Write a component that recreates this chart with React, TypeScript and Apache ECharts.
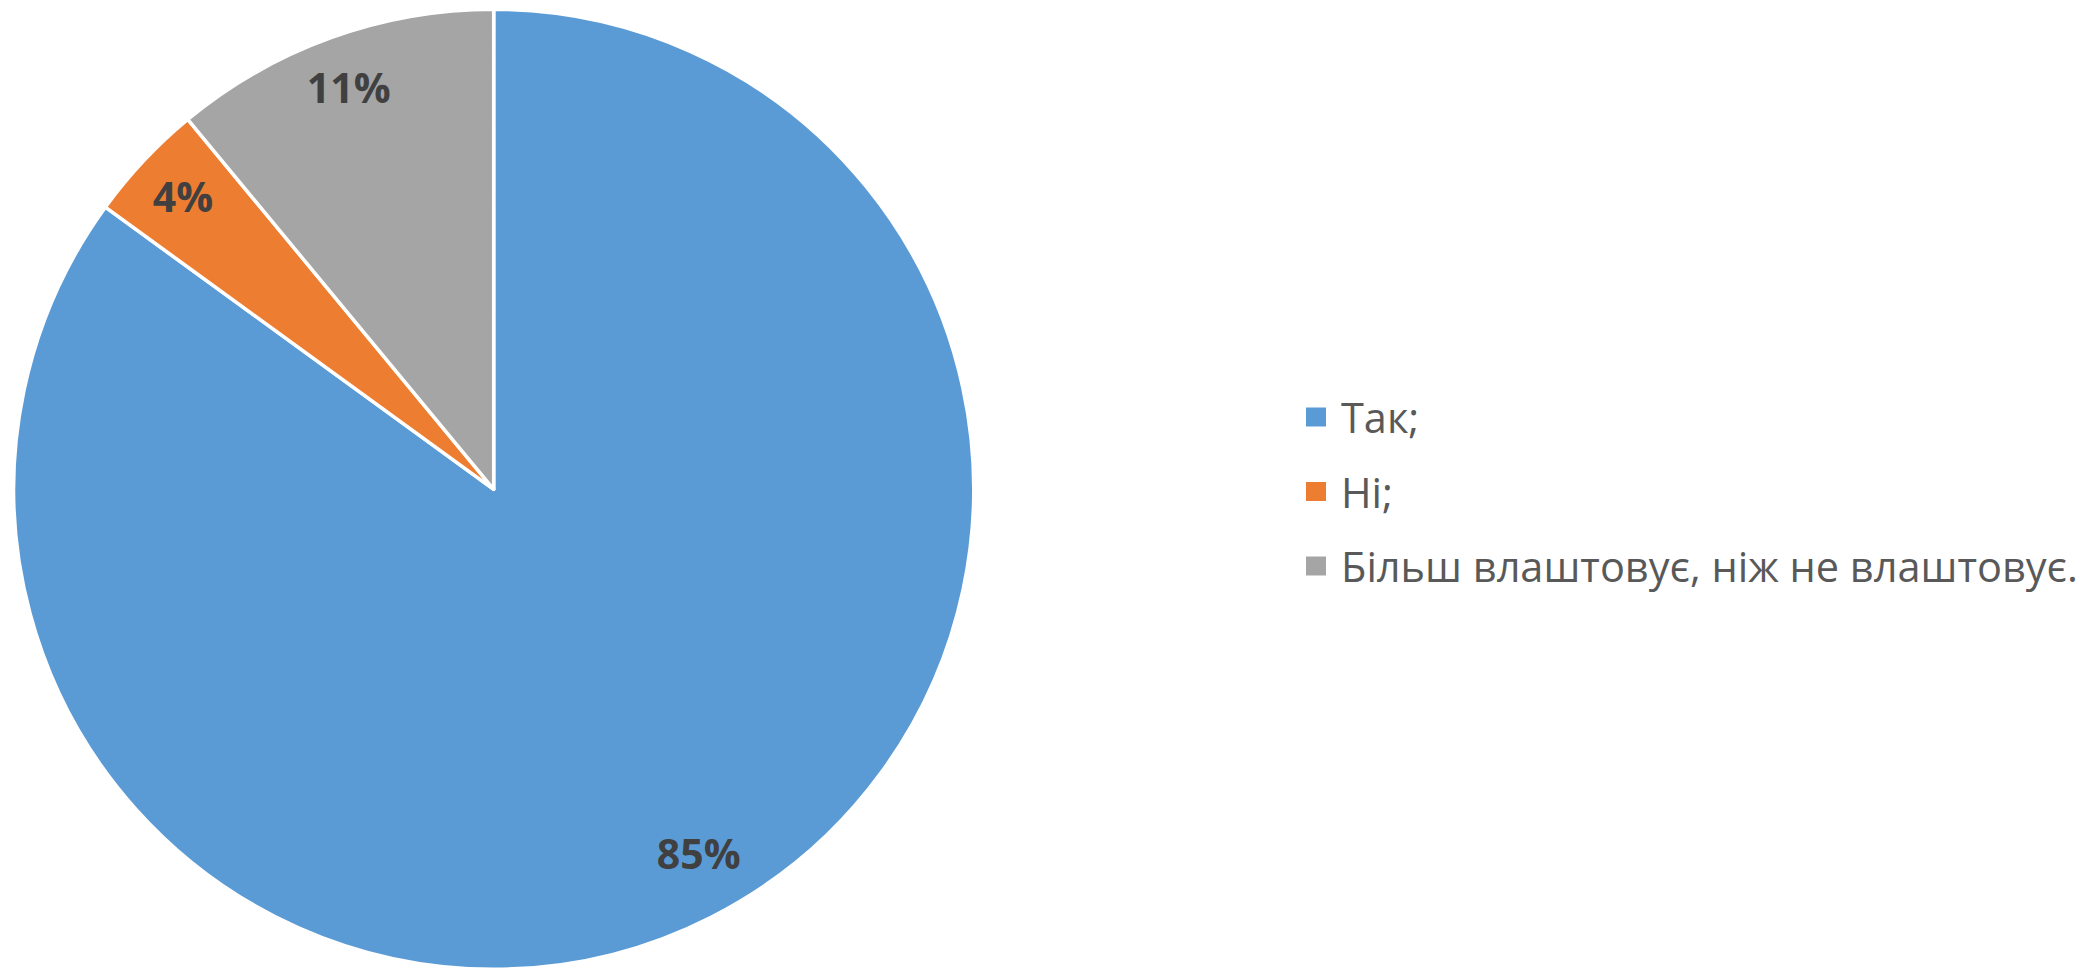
import React, { useEffect, useRef } from "react";
import * as echarts from "echarts";

const categories = ["Так;", "Ні;", "Більш влаштовує, ніж не влаштовує."];
const values = [85, 4, 11];
const colors = ["#5B9BD5", "#ED7D31", "#A5A5A5"];

export default function App() {
  const ref = useRef<HTMLDivElement>(null);
  useEffect(() => {
    if (!ref.current) return;
    const chart = echarts.init(ref.current, undefined, { renderer: "svg" });
    const data = categories.map((name, i) => ({
      name,
      value: values[i],
      itemStyle: { color: colors[i] },
    }));
    chart.setOption({
      animation: false,
      backgroundColor: "#ffffff",
      legend: {
        orient: "vertical",
        left: 1304,
        top: 392,
        padding: 0,
        itemWidth: 22,
        itemHeight: 21,
        itemGap: 24.5,
        icon: "rect",
        data: categories,
        textStyle: {
          fontFamily: "Open Sans",
          fontSize: 41.5,
          color: "#595959",
          lineHeight: 50,
          padding: [0, 0, 0, 9],
        },
      },
      series: [
        {
          type: "pie",
          center: [493.7, 489.3],
          radius: [0, 480],
          startAngle: 90,
          clockwise: true,
          silent: true,
          itemStyle: { borderColor: "#ffffff", borderWidth: 3.5 },
          label: { show: false },
          labelLine: { show: false },
          data,
        },
        {
          type: "pie",
          center: [493.7, 489.3],
          radius: [364, 480],
          startAngle: 90,
          clockwise: true,
          silent: true,
          itemStyle: { color: "rgba(0,0,0,0)", borderWidth: 0 },
          label: {
            show: true,
            position: "inside",
            formatter: "{c}%",
            fontFamily: "Open Sans",
            fontWeight: "bold",
            fontSize: 41,
            color: "#404040",
          },
          labelLayout: (p: any) =>
            p.dataIndex === 0 ? { dx: 12, dy: -15 } : { dx: -1, dy: -2 },
          labelLine: { show: false },
          data: categories.map((name, i) => ({ name, value: values[i] })),
        },
      ],
    });
    return () => chart.dispose();
  }, []);
  return (
    <div
      ref={ref}
      style={{ position: "absolute", left: 0, top: 0, width: 2080, height: 970 }}
    />
  );
}
